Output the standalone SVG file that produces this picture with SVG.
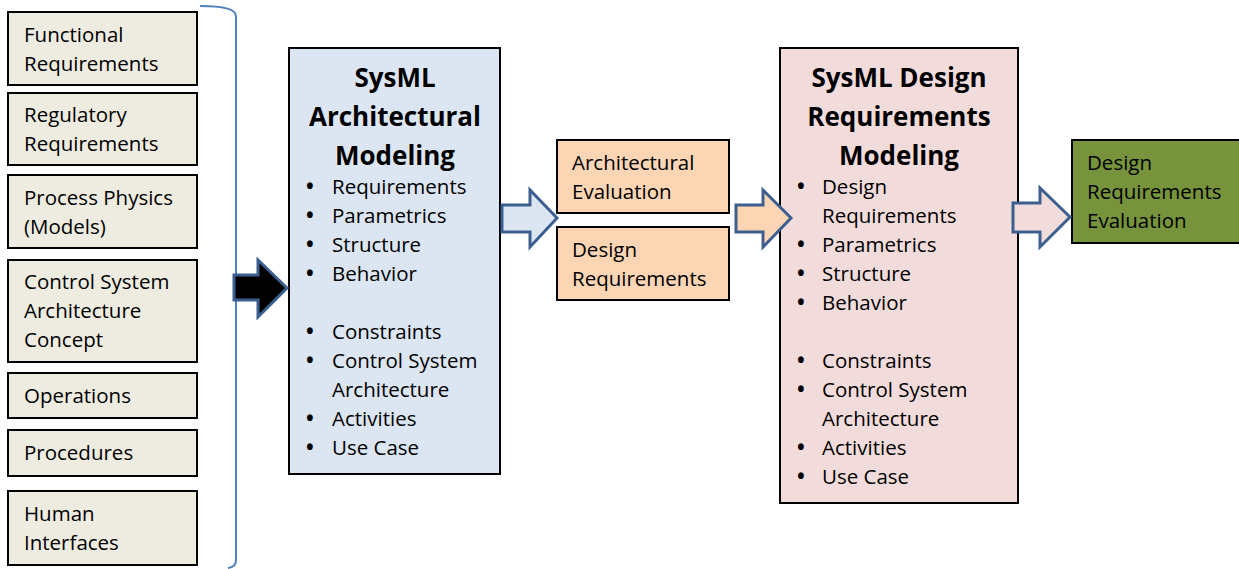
<svg xmlns="http://www.w3.org/2000/svg" width="1239" height="569" viewBox="0 0 1239 569">
  <style>
    text { font-family: "Open Sans", "Liberation Sans", sans-serif; fill: #000; }
    .t { font-size: 20.5px; }
    .b { font-size: 20.5px; font-weight: bold; }
    .h { font-size: 26px; font-weight: bold; text-anchor: middle; }
    .box { stroke: #000; stroke-width: 2; }
    .input { fill: #eeece1; }
    .orange { fill: #fcd5b5; }
    .arrow { stroke: #3c5f8f; stroke-width: 3; stroke-linejoin: miter; }
  </style>

  <!-- input boxes -->
  <g id="functional-requirements">
    <rect class="box input" x="8" y="12" width="189" height="73"/>
    <text class="t" x="24" y="42">Functional</text>
    <text class="t" x="24" y="71">Requirements</text>
  </g>
  <g id="regulatory-requirements">
    <rect class="box input" x="8" y="93" width="189" height="72"/>
    <text class="t" x="24" y="122">Regulatory</text>
    <text class="t" x="24" y="151">Requirements</text>
  </g>
  <g id="process-physics">
    <rect class="box input" x="8" y="175" width="189" height="73"/>
    <text class="t" x="24" y="205">Process Physics</text>
    <text class="t" x="24" y="234">(Models)</text>
  </g>
  <g id="control-system-architecture-concept">
    <rect class="box input" x="8" y="260" width="189" height="102"/>
    <text class="t" x="24" y="289">Control System</text>
    <text class="t" x="24" y="318">Architecture</text>
    <text class="t" x="24" y="347">Concept</text>
  </g>
  <g id="operations">
    <rect class="box input" x="8" y="373" width="189" height="45"/>
    <text class="t" x="24" y="403">Operations</text>
  </g>
  <g id="procedures">
    <rect class="box input" x="8" y="430" width="189" height="46"/>
    <text class="t" x="24" y="460">Procedures</text>
  </g>
  <g id="human-interfaces">
    <rect class="box input" x="8" y="491" width="189" height="74"/>
    <text class="t" x="24" y="521">Human</text>
    <text class="t" x="24" y="550">Interfaces</text>
  </g>

  <!-- architectural modeling -->
  <g id="sysml-architectural-modeling">
    <rect class="box" x="289" y="48" width="211" height="426" fill="#dce6f2"/>
    <text class="h" x="395" y="87">SysML</text>
    <text class="h" x="395" y="126">Architectural</text>
    <text class="h" x="395" y="165">Modeling</text>
    <g class="b">
      <text x="306" y="194">•</text>
      <text x="306" y="223">•</text>
      <text x="306" y="252">•</text>
      <text x="306" y="281">•</text>
      <text x="306" y="339">•</text>
      <text x="306" y="368">•</text>
      <text x="306" y="426">•</text>
      <text x="306" y="455">•</text>
    </g>
    <g class="t">
      <text x="332" y="194">Requirements</text>
      <text x="332" y="223">Parametrics</text>
      <text x="332" y="252">Structure</text>
      <text x="332" y="281">Behavior</text>
      <text x="332" y="339">Constraints</text>
      <text x="332" y="368">Control System</text>
      <text x="332" y="397">Architecture</text>
      <text x="332" y="426">Activities</text>
      <text x="332" y="455">Use Case</text>
    </g>
  </g>

  <g id="architectural-evaluation">
    <rect class="box orange" x="557" y="140" width="172" height="73"/>
    <text class="t" x="572" y="170">Architectural</text>
    <text class="t" x="572" y="199">Evaluation</text>
  </g>
  <g id="design-requirements">
    <rect class="box orange" x="557" y="227" width="172" height="73"/>
    <text class="t" x="572" y="257">Design</text>
    <text class="t" x="572" y="286">Requirements</text>
  </g>

  <!-- design requirements modeling -->
  <g id="sysml-design-requirements-modeling">
    <rect class="box" x="780" y="48" width="238" height="455" fill="#f2dcdb"/>
    <text class="h" x="899" y="87">SysML Design</text>
    <text class="h" x="899" y="126">Requirements</text>
    <text class="h" x="899" y="165">Modeling</text>
    <g class="b">
      <text x="797" y="194">•</text>
      <text x="797" y="252">•</text>
      <text x="797" y="281">•</text>
      <text x="797" y="310">•</text>
      <text x="797" y="368">•</text>
      <text x="797" y="397">•</text>
      <text x="797" y="455">•</text>
      <text x="797" y="484">•</text>
    </g>
    <g class="t">
      <text x="822" y="194">Design</text>
      <text x="822" y="223">Requirements</text>
      <text x="822" y="252">Parametrics</text>
      <text x="822" y="281">Structure</text>
      <text x="822" y="310">Behavior</text>
      <text x="822" y="368">Constraints</text>
      <text x="822" y="397">Control System</text>
      <text x="822" y="426">Architecture</text>
      <text x="822" y="455">Activities</text>
      <text x="822" y="484">Use Case</text>
    </g>
  </g>

  <g id="design-requirements-evaluation">
    <rect class="box" x="1072" y="140" width="170" height="103" fill="#77933c"/>
    <text class="t" x="1087" y="170">Design</text>
    <text class="t" x="1087" y="199">Requirements</text>
    <text class="t" x="1087" y="228">Evaluation</text>
  </g>

  <!-- connectors: brace and block arrows -->
  <g id="connectors">
    <path d="M200,6 Q236,6 236,16 L236,560 Q236,567 228,568" fill="none" stroke="#4f81bd" stroke-width="2"/>
    <path class="arrow" d="M234,275 H258 V260 L287,288 L258,317 V300 H234 Z" fill="#000"/>
    <path class="arrow" d="M502,205 H530 V190 L557,218 L530,247 V232 H502 Z" fill="#dce6f2"/>
    <path class="arrow" d="M736,205 H763 V190 L791,218 L763,247 V232 H736 Z" fill="#fcd5b5"/>
    <path class="arrow" d="M1013,203 H1040 V188 L1070,217 L1040,247 V232 H1013 Z" fill="#f2dcdb"/>
  </g>
</svg>
